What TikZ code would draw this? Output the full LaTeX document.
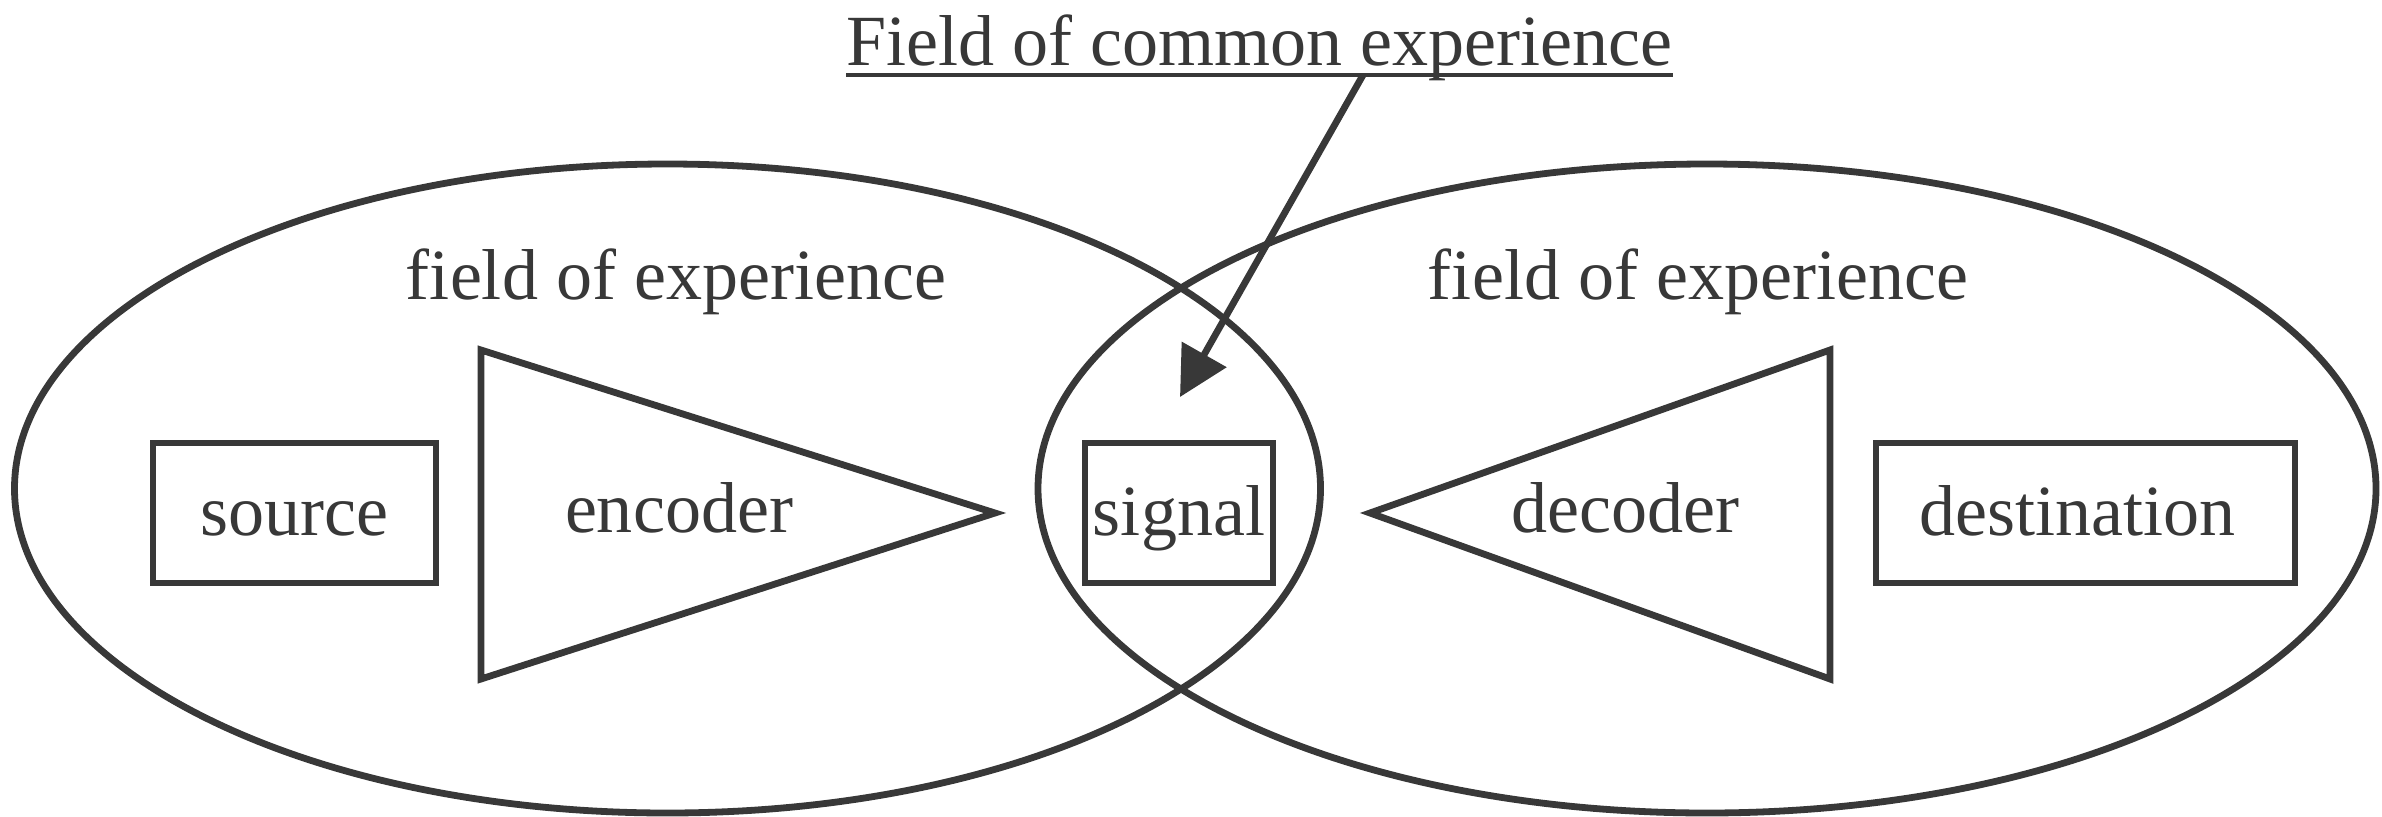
\documentclass[tikz,border=0pt]{standalone}
\usepackage{fontspec}
\setmainfont{Liberation Serif}
\usetikzlibrary{arrows.meta}
\definecolor{ink}{HTML}{383838}
\begin{document}
\begin{tikzpicture}[
  line width=0.068cm, draw=ink,
  lbl/.style={font=\fontsize{20.5}{24}\selectfont, text=ink, inner sep=0pt},
  boxnode/.style={lbl, draw=ink, rectangle, minimum height=1.40cm, text height=0.5cm, text depth=0.06cm},
  fieldell/.style={draw=ink},
  tri/.style={draw=ink, line join=miter}
]
\useasboundingbox (0,0) rectangle (23.82,8.16);
% fields of experience
\draw[fieldell] (6.675,3.275) ellipse [x radius=6.53cm, y radius=3.245cm];
\draw[fieldell] (17.07,3.275) ellipse [x radius=6.69cm, y radius=3.245cm];
% encoder / decoder triangles
\draw[tri] (4.81,4.66) -- (9.95,3.03) -- (4.81,1.37) -- cycle;
\draw[tri] (18.30,4.66) -- (13.70,3.03) -- (18.30,1.37) -- cycle;
% boxes
\node[boxnode, minimum width=2.83cm] (source) at (2.945,3.03) {source};
\node[boxnode, minimum width=1.88cm] (signal) at (11.79,3.03) {signal};
\node[boxnode, minimum width=4.19cm] (destination) at (20.855,3.03) {\hspace*{-0.16cm}destination};
% labels
\node[lbl, anchor=base] (encoder) at (6.79,2.84) {encoder};
\node[lbl, anchor=base] (decoder) at (16.25,2.84) {decoder};
\node[lbl, anchor=base] (fieldL) at (6.76,5.17) {field of experience};
\node[lbl, anchor=base] (fieldR) at (16.98,5.17) {field of experience};
\node[lbl, anchor=base] (title) at (12.595,7.51) {Field of common experience};
\draw[line width=0.045cm] (8.46,7.41) -- (16.73,7.41);
% arrow
\coordinate (arrstart) at (13.63,7.41);
\coordinate (arrtip) at (11.80,4.19);
\draw[-{Triangle[length=0.49cm,width=0.5cm]}, fill=ink] (arrstart) -- (arrtip);
\end{tikzpicture}
\end{document}
